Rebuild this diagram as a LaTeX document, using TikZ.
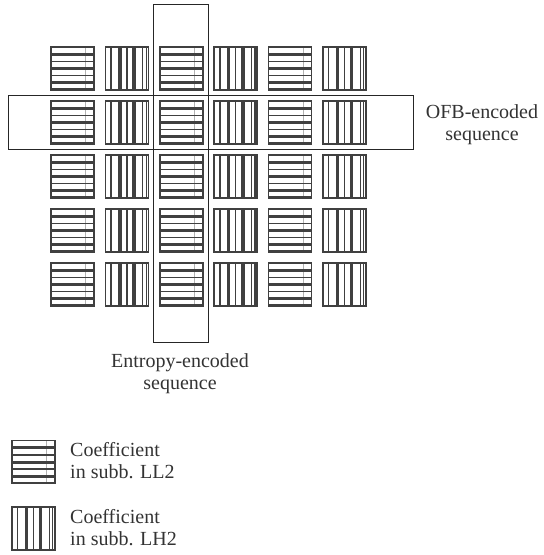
\documentclass[tikz,border=0pt]{standalone}
\usepackage{fontspec}
\setmainfont{Liberation Serif}
\usetikzlibrary{calc}
\tikzset{
  tile/.style={draw=black!75, line width=1.5pt, minimum size=43pt, inner sep=0pt, outer sep=0pt},
  hs/.style={tile, path picture={
    \draw[black!30, line width=0.5pt] ($(path picture bounding box.north west)!0.8!(path picture bounding box.north east)$) --
                           ($(path picture bounding box.south west)!0.8!(path picture bounding box.south east)$);
    \foreach \k/\w in {1/3pt,2/1.5pt,3/3pt,4/1.5pt,5/3pt}{
      \draw[line width=\w] ($(path picture bounding box.north west)!\k/6!(path picture bounding box.south west)$) --
                           ($(path picture bounding box.north east)!\k/6!(path picture bounding box.south east)$);}
    \draw[line width=4pt] (path picture bounding box.south west) -- (path picture bounding box.south east);
  }},
  vs/.style={tile, path picture={
    \foreach \k/\w in {0.8/1.5pt,2/3.6pt,3/1.5pt,4/3.6pt,5.2/1.5pt,5.7/1.2pt}{
      \draw[line width=\w] ($(path picture bounding box.north west)!\k/6!(path picture bounding box.north east)$) --
                           ($(path picture bounding box.south west)!\k/6!(path picture bounding box.south east)$);}
  }},
  frame/.style={draw=black!85, line width=1.2pt, inner sep=0pt, outer sep=0pt},
  lbl/.style={font=\fontsize{20}{22}\selectfont, text=black!80, align=center, inner sep=0pt},
}
\begin{document}
\begin{tikzpicture}[x=1pt,y=-1pt]
\useasboundingbox (0,0) rectangle (544,555);
% frames
\node[frame, minimum width=54.6pt, minimum height=338pt] (vseq) at (181,173.7) {};
\node[frame, minimum width=404.6pt, minimum height=53.9pt] (hseq) at (211,122.25) {};
% tiles
\foreach \j in {0,...,4}{
  \foreach \i in {0,2,4}{
    \node[hs] (t-\i-\j) at ({51+54.4*\i+21.5},{47+54*\j+21.5}) {};
  }
  \foreach \i in {1,3,5}{
    \node[vs] (t-\i-\j) at ({51+54.4*\i+21.5},{47+54*\j+21.5}) {};
  }
}
% labels
\node[lbl] (ofb) at (482,125) {OFB-encoded\\sequence};
\node[lbl] (ent) at (180,374) {Entropy-encoded\\sequence};
% legend
\node[hs] (lg1) at (33.5,462) {};
\node[vs] (lg2) at (33.5,528.5) {};
\node[lbl, anchor=west, align=left] (lt1) at (70,461) {Coefficient\\in subb. LL2};
\node[lbl, anchor=west, align=left] (lt2) at (70,528) {Coefficient\\in subb. LH2};
\end{tikzpicture}
\end{document}
